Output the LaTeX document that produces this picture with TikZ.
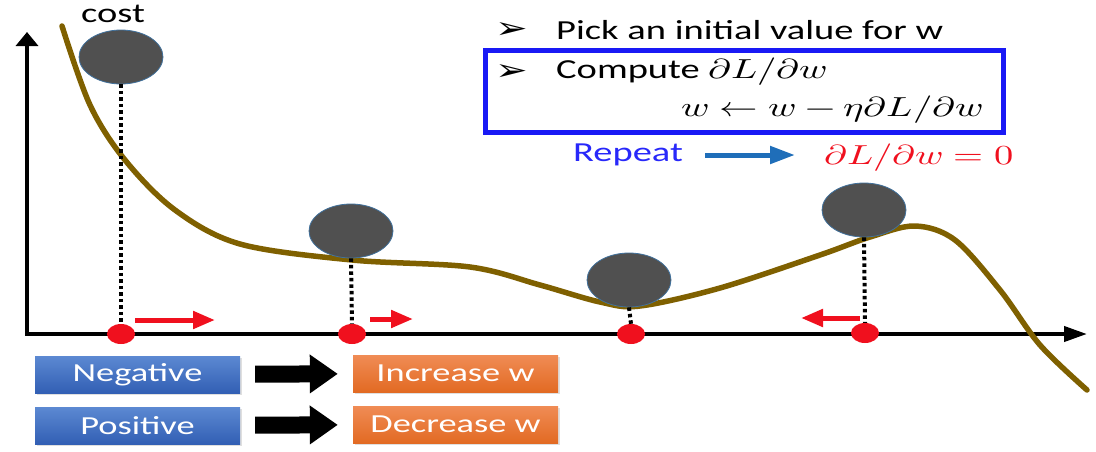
\documentclass[tikz,border=0pt]{standalone}
\usepackage{fontspec}
\usepackage{unicode-math}
\usepackage{graphicx}
\setmainfont{Carlito}[FakeStretch=1.4]
\newfontfamily\arrowfont{DejaVu Sans}
\usetikzlibrary{arrows.meta, shapes.geometric, shadows}
\definecolor{curvebrown}{RGB}{127,96,0}
\definecolor{ballgray}{RGB}{80,80,80}
\definecolor{ballrim}{RGB}{65,113,156}
\definecolor{dotred}{RGB}{240,16,30}
\definecolor{frameblue}{RGB}{25,25,245}
\definecolor{repeatblue}{RGB}{40,40,250}
\definecolor{steel}{RGB}{31,110,185}
\newcommand\wm[1]{\scalebox{1.4}[1]{$#1$}}
\newcommand\bigtext{\fontsize{27.5}{30}\selectfont}

\begin{document}
\begin{tikzpicture}[x=1pt, y=-1pt,
  ball/.style={ellipse, draw=ballrim, line width=0.8pt, fill=ballgray, minimum width=84pt, minimum height=54pt},
  reddot/.style={ellipse, fill=dotred, minimum width=28pt, minimum height=20pt, inner sep=0pt},
  plumb/.style={line width=4pt, dash pattern=on 3.5pt off 3pt},
  push/.style={draw=dotred, line width=5pt, -{Triangle[length=22pt, width=17pt]}},
  toptext/.style={inner sep=0pt, font=\bigtext},
  bullet/.style={inner sep=0pt, font=\arrowfont\fontsize{30}{30}\selectfont},
  signbox/.style={rectangle, minimum width=205pt, minimum height=37pt, inner sep=0pt, text=white, font=\fontsize{26}{28}\selectfont, drop shadow={shadow xshift=2pt, shadow yshift=-2pt, opacity=.25}},
  negbox/.style={signbox, top color={rgb,255:red,92;green,137;blue,210}, bottom color={rgb,255:red,50;green,95;blue,180}},
  actbox/.style={signbox, top color={rgb,255:red,240;green,140;blue,85}, bottom color={rgb,255:red,226;green,106;blue,35}},
  blockarrow/.style={line width=17pt, shorten <=15pt, shorten >=15pt, -{Triangle[length=28pt, width=37pt]}}
]
\useasboundingbox (0,0) rectangle (1096,451);

% axes
\coordinate (ytop) at (27,32);
\coordinate (origin) at (27,334);
\coordinate (xend) at (1087,334);
\draw [line width=4pt, {Triangle[length=14pt, width=22pt]}-{Triangle[length=23pt, width=15pt]}] (ytop) -- (origin) -- (xend);
\node [toptext] (cost) at (113,14) {cost};

% cost curve
\draw [curvebrown, line width=5.5pt, line cap=round] plot [smooth, tension=0.55] coordinates {
  (62,26) (90,105) (125,160) (175,210) (240,244) (352,260) (470,267) (540,285)
  (600,302) (640,306) (720,288) (820,255) (870,237) (915,226) (955,240)
  (1000,290) (1040,345) (1087,390)};

% balls and their points on the axis
\node [ball] (b1) at (121,57) {};
\node [ball] (b2) at (351,231) {};
\node [ball] (b3) at (629,280) {};
\node [ball] (b4) at (864,210) {};
\node [reddot] (d1) at (121,334) {};
\node [reddot] (d2) at (352,334) {};
\node [reddot] (d3) at (631,334) {};
\node [reddot] (d4) at (865,333) {};
\foreach \i in {1,...,4}
  \draw [plumb] (b\i.south) -- (d\i.north);

% steps
\coordinate (s1) at (135,320); \coordinate (e1) at (215,320);
\coordinate (s2) at (370,319); \coordinate (e2) at (413,319);
\coordinate (s4) at (860,318); \coordinate (e4) at (801,318);
\draw [push] (s1) -- (e1);
\draw [push] (s2) -- (e2);
\draw [push] (s4) -- (e4);

% algorithm
\node [bullet] (m1) at (512,30) {\scalebox{1.3}[1]{➢}};
\node [toptext, anchor=west] (pick) at (556,30) {Pick an initial value for w};
\node [bullet] (m2) at (512,72) {\scalebox{1.3}[1]{➢}};
\node [toptext, anchor=west] (comp) at (556,72) {Compute \wm{\partial L/\partial w}};
\node [toptext, anchor=east] (upd) at (983,110) {\wm{w \leftarrow w - \eta\partial L/\partial w}};
\draw [frameblue, line width=5pt] (485,50) rectangle (1003,132);
\node [toptext, text=repeatblue] (rep) at (628,155) {Repeat};
\node [toptext, text=dotred, anchor=west] (zero) at (824,158) {\wm{\partial L/\partial w = 0}};
\draw [steel, line width=5pt, shorten <=22pt, shorten >=29pt, -{Triangle[length=25pt, width=17pt]}] (rep.east) -- (zero.west |- rep.east);

% sign of the gradient
\node [negbox] (neg) at (137.5,374.5) {Negative};
\node [negbox] (pos) at (137.5,425.5) {Positive};
\node [actbox] (inc) at (455.5,373.5) {Increase w};
\node [actbox] (dec) at (455.5,424.5) {Decrease w};
\draw [blockarrow] (neg) -- (inc);
\draw [blockarrow] (pos) -- (dec);
\end{tikzpicture}
\end{document}
